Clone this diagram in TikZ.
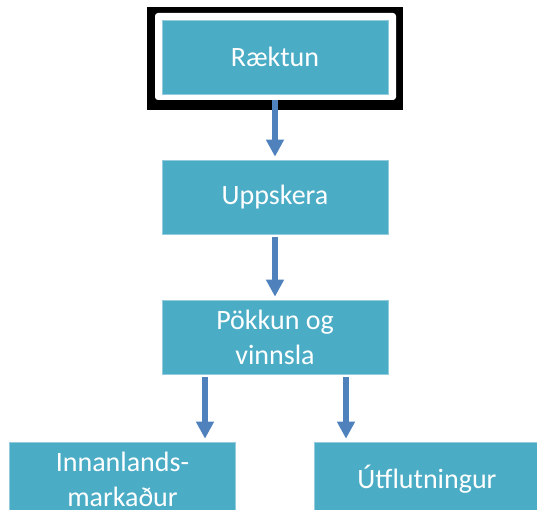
\documentclass[tikz,border=0pt]{standalone}
\usepackage{fontspec}
\setmainfont{Carlito}
\usetikzlibrary{arrows.meta,calc,positioning}
\definecolor{aqua}{HTML}{4BACC6}
\definecolor{arrowblue}{HTML}{4F81BD}
\tikzset{
  stage/.style={
    shape = rectangle,
    fill = aqua,
    draw = aqua!60!white,
    line width = 0.6pt,
    minimum width = 226pt,
    minimum height = 74pt,
    inner sep = 0pt,
    text = white,
    align = center,
    font = \fontsize{28}{35}\selectfont
  },
  flow/.style={
    draw = arrowblue,
    line width = 5.5pt,
    -{Triangle[width=17pt,length=17pt]},
    shorten <= 3pt,
    shorten >= 3pt
  },
}
\begin{document}
\begin{tikzpicture}[x=1pt,y=-1pt]
  \useasboundingbox (0,0) rectangle (537,510);
  \clip (0,0) rectangle (537,510);
  % frame round the first stage
  \fill[black] (147,7) rectangle (403,110);
  \fill[white,rounded corners=3pt] (155,13) rectangle (396,100);
  \node[stage] (rakt) at (275,57) {Ræktun};
  \node[stage] (upp) at (275,197) {Uppskera};
  \node[stage] (pokk) at (275,337) {Pökkun og\\vinnsla};
  \node[stage] (innan) at (122.5,479) {Innanlands-\\markaður};
  \node[stage] (utfl) at (427,479) {Útflutningur};
  \draw[flow,shorten <= 6pt] (rakt) -- (upp);
  \draw[flow] (upp) -- (pokk);
  \foreach \dx/\n in {-70/innan,71/utfl}{
    \draw[flow] ([xshift=\dx pt]pokk.south) -- ([xshift=\dx pt]pokk.south |- \n.north);
  }
\end{tikzpicture}
\end{document}
